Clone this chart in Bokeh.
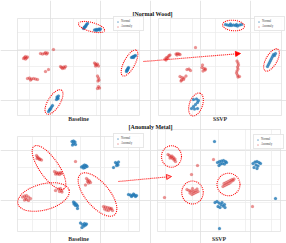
from bokeh.plotting import figure
from bokeh.models import Range1d, Arrow, NormalHead, Legend, LegendItem
from bokeh.core.properties import value
from bokeh.embed import file_html
from bokeh.resources import INLINE

# ---------------- data (t-SNE embeddings, panel-local units) ----------------
# [Normal Wood] - Baseline
tl_normal_x = [5, 6, 7, 7.5, 8, 9, 6, 16, 17.5, 19, 20.5, 22, 18, 21, 53, 54, 55, 56, 57, 55,
               48, 48.5, 49, 49.5, 50, 48.5, -22, -21, -20, -21.5, -20.5, -30, -29, -28, -27, -26, -28.5]
tl_normal_y = [38.5, 39.5, 40.5, 41.5, 42.5, 43.5, 40, 37, 37.5, 37.5, 38, 38, 36.5, 37, 9.5, 10, 10.5, 11, 11.5, 9.5,
               -4.5, -3.5, -2.5, -1.5, -0.5, -3, -32.5, -31, -29, -30, -31.5, -44.5, -43, -41.5, -40, -38.5, -42.5]
tl_anom_x = [-54, -53, -52, -55, -51, -53, -38, -36, -34, -32, -33, -31, -25, -17, -15, -14, -16, -13, -18,
             -33, -30, -51, -49, -47, -45, -43, -41, -48, 16, 17, 18, 19, 20, 17, 19, 20, 20.5, 19.5, 20, 21, 19]
tl_anom_y = [9.5, 10.5, 9, 8.5, 10, 8, 13.5, 13, 13.5, 13, 14.5, 14, 17.5, -0.5, 0, -1, -1.5, 0.5, 0.5,
             -4.5, -2.5, -11.5, -11, -12, -11.5, -12, -12.5, -13, 4, 3, 2, 3, 1, 1, -9, -11, -13, -14, -19.5, -21, -21.5]

# [Normal Wood] - SSVP
tr_normal_x = [5.5, 7.5, 9.5, 11.5, 13.5, 15.5, 17.5, 19.5, 21.5, 10.5, 16.5,
               47.5, 48.5, 49.5, 50.5, 51.5, 52.5, 54.5, 55.5, 53.5,
               -26.5, -23.5, -21.5, -22.5, -24.5, -26.5, -28.5, -25.5, -22.5]
tr_normal_y = [42.5, 42, 41.5, 41.5, 42, 41.5, 41, 42, 42.5, 43, 42.5,
               0.5, 2.5, 4.5, 6.5, 8.5, 10.5, 11.5, 13.5, 12.5,
               -32.5, -32, -33.5, -35.5, -37.5, -39.5, -41.5, -42, -41.5]
tr_anom_x = [-55, -53.5, -52, -51, -50, -54, -52.5, -44, -42.5, -41, -43, -40, -24.5, -33, -31, -29.5,
             -18, -16, -15, -17, -14.5, -17.5, -40, -38, -36, -38.5, -36.5, -34, -39,
             17, 18, 18.5, 17.5, 18, 17, 16.5, 17.5, 19.5, 18]
tr_anom_y = [8, 9.5, 10, 11.5, 12, 7, 8.5, 13, 13.5, 13, 12, 12.5, 19.5, -2.5, -2, -3.5,
             -0.5, -1.5, -3, -4, -2, 2, -9.5, -10.5, -11, -13, -12.5, -9, -14,
             6, 4, 2, 0, -2, -4, -6, -8, -9.5, -10]

# [Anomaly Metal] - Baseline
bl_normal_x = [-6.5, -5, -3.5, -5, -3, -6, 3, 4.5, 6, 7.5, 8.5, 5, 6.5, 37, 38.5, 39.5, 38, 40, 35,
               50, 52, 54, 56, 58, 53, 55, 57, -5, -3.5, -2, -3, -1, -4.5, -1, 2, 4, 5.5, 7, 8, 6, 3.5]
bl_normal_y = [42.5, 43, 42, 40.5, 39.5, 39, 17, 18, 19, 18.5, 17.5, 16, 16.5, 21.5, 20.5, 19, 18.5, 22, 16.5,
               -10.5, -11, -11.5, -11, -11.5, -12.5, -10, -12.5, -18, -19, -20.5, -21.5, -22, -20, -24.5,
               -39, -40.5, -42, -41, -40, -39.5, -43.5]
bl_anom_x = [-42, -41, -40, -38.5, -37, -39, -41.5, -24, -22, -20, -18, -21, -19, -23, -17, -3,
             -20, -18, -17, -19, -16.5, -23, -56, -54, -52, -50, -48, -52, -54, -50, -53,
             8, 9.5, 11, 12, 10, 9, 7, 25, 27, 29, 31, 33, 28, 30, 32, 34, 26]
bl_anom_y = [28.5, 27, 26, 25, 24, 24.5, 25.5, 12.5, 11.5, 11, 11.5, 10, 9.5, 10, 10.5, 22.5,
             -5, -4.5, -6.5, -7.5, -8, -6.5, -13, -12, -11.5, -13, -14.5, -15.5, -16, -16.5, -14,
             5.5, 4, 3, 1.5, 1, 2.5, -1, -22.5, -23, -23.5, -24, -24.5, -26, -26.5, -25, -26.5, -25]

# [Anomaly Metal] - SSVP
br_normal_x = [-4.5, -1.5, 0.5, 2.5, 4.5, 6.5, 1.5, 3.5, 5.5, 0, 7.5, 34, 36, 38, 40, 41.5, 37, 39, 35, 38,
               -4, -2, 0, 2, 4, 6, 1, -1, 3, 5.5, 0.5, 56.5]
br_normal_y = [39, 18, 19, 19.5, 20, 19, 16.5, 17, 16.5, 15, 18, 17, 18.5, 19, 18, 17, 15.5, 14.5, 13, 12,
               -22, -21, -22.5, -24, -25.5, -27, -27, -26, -22, -24, -48, -18]
br_anom_x = [-51, -49.5, -48, -46.5, -45, -43.5, -47, -45.5, -44, -49,
             -32, -30, -28, -26, -24, -22, -25, -27, -29, -23, -26.5, -21,
             4, 6, 8, 10, 12, 14, 5, 7, 9, 11, 13, 15, -5.5, -21.5, -27.5, -54.5, 33.5]
br_anom_y = [26, 25, 23.5, 22, 20.5, 19, 24.5, 23, 21.5, 22.5,
             -9, -10, -10.5, -11, -10, -8.5, -13, -14, -12.5, -12, -8, -11,
             -6, -5, -4, -3, -1.5, 0, -3, -2, -1, 0, 1, 1.5, 21, 15, 6, -17, -26]

# highlighted regions (ellipses): centre, major, minor, angle (deg)
tl_ell = dict(x=[13, 51, -24.5], y=[40, 4, -35], w=[27, 29, 28], h=[9, 11, 12], a=[-15, 62, 58])
tr_ell = dict(x=[13.5, 51.5, -24], y=[41.5, 7, -37.5], w=[22, 25, 24], h=[10.5, 11, 13], a=[-5, 60, 70])
bl_ell = dict(x=[-29.5, -35, 19], y=[16.5, -13, -10.5], w=[52, 53, 53], h=[19, 26, 24], a=[-55, 15, -50])
br_ell = dict(x=[-47.5, -26.5, 9.5], y=[24, -12, -4], w=[20, 21.5, 23], h=[21.5, 23, 22.5], a=[0, 0, 0])

# grid ticks (panel-local)
tl_xticks = [-49, -26, -5, 18, 39]
tl_yticks = [34.5, 17.5, 0.5, -16.5, -32.5]
tr_xticks = [-49.5, -27.5, -4.5, 17.5, 39.5]
tr_yticks = [34.5, 17.5, 0.5, -16.5, -32.5]
bl_xticks = [-46, -22, 2, 26, 50]
bl_yticks = [33.5, 16.5, -0.5, -18.5, -35.5]
br_xticks = [-53.5, -26.5, -0.5, 26.5, 52.5]
br_yticks = [31, 15, -4, -22, -39]

titles = ["[Normal Wood]", "[Anomaly Metal]"]
method_labels = ["Baseline", "SSVP"]
legend_labels = ["Normal", "Anomaly"]

# ---------------- layout (page pixel frame) ----------------
W, H = 286, 243
FONT = "Liberation Serif"
SERIF = value(FONT)
BLUE = "#1f77b4"
RED = "#d62728"

p = figure(width=W, height=H, output_backend="svg", toolbar_location=None,
           x_range=Range1d(0, W), y_range=Range1d(H, 0),
           x_axis_location=None, y_axis_location=None, min_border=0)
p.outline_line_color = None
p.background_fill_color = "white"
p.border_fill_color = "white"

panels = [
    ("tl", (17, 139, 18, 115), tl_normal_x, tl_normal_y, tl_anom_x, tl_anom_y, tl_ell, tl_xticks, tl_yticks,
     method_labels[0], 118.5, (113, 31)),
    ("tr", (158, 281, 18, 115), tr_normal_x, tr_normal_y, tr_anom_x, tr_anom_y, tr_ell, tr_xticks, tr_yticks,
     method_labels[1], 118.5, (254, 31)),
    ("bl", (17, 139, 136, 231), bl_normal_x, bl_normal_y, bl_anom_x, bl_anom_y, bl_ell, bl_xticks, bl_yticks,
     method_labels[0], 238, (113, 148)),
    ("br", (157, 280, 129, 231), br_normal_x, br_normal_y, br_anom_x, br_anom_y, br_ell, br_xticks, br_yticks,
     method_labels[1], 238, (253, 149)),
]

for (name, (x0, x1, y0, y1), nx, ny, ax, ay, ell, xt, yt, lab, laby, (lgx, lgy)) in panels:
    xc, yc = (x0 + x1) / 2, (y0 + y1) / 2
    hw, hh = (x1 - x0) / 2, (y1 - y0) / 2
    p.extra_x_ranges[name] = Range1d(-xc, W - xc)
    p.extra_y_ranges[name] = Range1d(yc - H, yc)
    kw = dict(x_range_name=name, y_range_name=name)

    p.segment(x0=xt, y0=[-hh] * len(xt), x1=xt, y1=[hh] * len(xt),
              line_color="#ebebeb", line_width=0.7, **kw)
    p.segment(x0=[-hw] * len(yt), y0=yt, x1=[hw] * len(yt), y1=yt,
              line_color="#ebebeb", line_width=0.7, **kw)
    p.quad(left=[-hw], right=[hw], bottom=[-hh], top=[hh], fill_color=None,
           line_color="#dedede", line_width=0.7, **kw)

    rn = p.scatter(x=nx, y=ny, marker="circle", size=3, fill_color=BLUE, fill_alpha=0.8,
                   line_color=BLUE, line_alpha=0.5, line_width=0.3, **kw)
    ra = p.scatter(x=ax, y=ay, marker="circle", size=3, fill_color=RED, fill_alpha=0.5,
                   line_color=RED, line_alpha=0.35, line_width=0.3, **kw)

    p.ellipse(x=ell["x"], y=ell["y"], width=ell["w"], height=ell["h"], angle=ell["a"],
              angle_units="deg", fill_color=None, line_color="red", line_width=1.1,
              line_dash="1 1", **kw)

    p.text(x=[0], y=[-hh], text=[lab], text_font=SERIF, text_font_style="bold",
           text_font_size="5.8px", text_color="#333333", text_align="center",
           text_baseline="middle", y_offset=(laby - y1), **kw)

    leg = Legend(items=[LegendItem(label=legend_labels[0], renderers=[rn]),
                        LegendItem(label=legend_labels[1], renderers=[ra])],
                 location=(lgx, H - lgy),
                 label_text_font=FONT, label_text_font_size="3px", label_text_color="#444444",
                 label_height=3, glyph_height=3, glyph_width=3, label_standoff=2,
                 spacing=1, padding=2, margin=0,
                 border_line_color="#d0d0d0", border_line_width=0.5,
                 background_fill_alpha=0.9)
    p.add_layout(leg)

p.text(x=[152, 150], y=[13, 126], text=titles, text_font=SERIF, text_font_style="bold",
       text_font_size="6px", text_color="#111111", text_align="center", text_baseline="middle")

p.add_layout(Arrow(end=NormalHead(size=5, fill_color="red", line_color="red", line_width=0.8),
                   x_start=143, y_start=61, x_end=240, y_end=53,
                   line_color="red", line_width=1.1, line_dash="1 1"))
p.add_layout(Arrow(end=NormalHead(size=5, fill_color="red", fill_alpha=0.3, line_color="red", line_width=0.8),
                   x_start=118, y_start=181, x_end=171, y_end=176,
                   line_color="red", line_width=1.1, line_dash="1 1"))

open("out.html", "w").write(file_html(p, INLINE))
